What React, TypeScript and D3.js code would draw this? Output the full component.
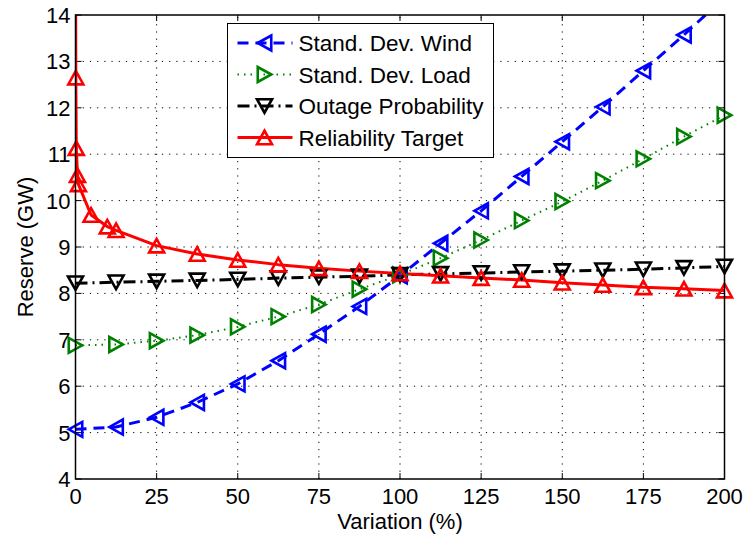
import * as d3 from "d3";
import React from "react";

// x positions shared by wind / load / outage series
const xSteps = [0, 12.5, 25, 37.5, 50, 62.5, 75, 87.5, 100, 112.5, 125, 137.5, 150, 162.5, 175, 187.5, 200];
const windValues = [5.07, 5.12, 5.33, 5.65, 6.05, 6.55, 7.12, 7.72, 8.38, 9.08, 9.78, 10.52, 11.27, 12.02, 12.8, 13.57, 14.38];
const loadValues = [6.88, 6.9, 6.98, 7.1, 7.28, 7.5, 7.76, 8.09, 8.4, 8.76, 9.15, 9.57, 9.98, 10.43, 10.9, 11.38, 11.84];
const outageValues = [8.22, 8.24, 8.26, 8.28, 8.3, 8.33, 8.35, 8.37, 8.4, 8.42, 8.44, 8.46, 8.48, 8.5, 8.52, 8.55, 8.58];

// reliability target has extra points near zero
const reliabilityX = [0, 0.1, 0.25, 0.6, 0.9, 4.8, 9.8, 12.5, 25, 37.5, 50, 62.5, 75, 87.5, 100, 112.5, 125, 137.5, 150, 162.5, 175, 187.5, 200];
const reliabilityValues = [15.5, 12.65, 11.13, 10.55, 10.35, 9.69, 9.44, 9.36, 9.03, 8.85, 8.72, 8.62, 8.54, 8.48, 8.43, 8.38, 8.33, 8.29, 8.23, 8.18, 8.13, 8.1, 8.06];

const xTicks = [0, 25, 50, 75, 100, 125, 150, 175, 200];
const yTicks = [4, 5, 6, 7, 8, 9, 10, 11, 12, 13, 14];

const seriesNames = ["Stand. Dev. Wind", "Stand. Dev. Load", "Outage Probability", "Reliability Target"];

const W = 745;
const H = 535;
const margin = { left: 75.5, right: 20.5, top: 15, bottom: 56 };
const FONT = "'Liberation Sans', Arial, Helvetica, sans-serif";

type Dir = "left" | "right" | "down" | "up";

function trianglePath(dir: Dir, s = 7.5) {
  const h = s * 0.9;
  switch (dir) {
    case "left":
      return `M${-h},0L${h},${-s}L${h},${s}Z`;
    case "right":
      return `M${h},0L${-h},${-s}L${-h},${s}Z`;
    case "down":
      return `M0,${h}L${-s},${-h}L${s},${-h}Z`;
    default:
      return `M0,${-h}L${-s},${h}L${s},${h}Z`;
  }
}

const styles = [
  { color: "#0000ff", dash: "11,7", width: 3, dir: "left" as Dir, markerWidth: 2.6 },
  { color: "#008000", dash: "1.5,5", width: 2, dir: "right" as Dir, markerWidth: 2.6 },
  { color: "#000000", dash: "12,5,2,5", width: 3, dir: "down" as Dir, markerWidth: 2.6 },
  { color: "#ff0000", dash: "none", width: 3, dir: "up" as Dir, markerWidth: 2.6 },
];

export default function App() {
  const iw = W - margin.left - margin.right;
  const ih = H - margin.top - margin.bottom;
  const x = d3.scaleLinear().domain([0, 200]).range([margin.left, margin.left + iw]);
  const y = d3.scaleLinear().domain([4, 14]).range([margin.top + ih, margin.top]);

  const series = [
    { xs: xSteps, ys: windValues },
    { xs: xSteps, ys: loadValues },
    { xs: xSteps, ys: outageValues },
    { xs: reliabilityX, ys: reliabilityValues },
  ];

  const line = d3
    .line<[number, number]>()
    .x((d) => x(d[0]))
    .y((d) => y(d[1]));

  const x0 = margin.left;
  const x1 = margin.left + iw;
  const y0 = margin.top + ih;
  const y1 = margin.top;
  const tick = 6;

  const legend = { x: 227.5, y: 23.5, w: 266, h: 134 };

  return (
    <svg
      width={W}
      height={H}
      style={{ position: "absolute", left: 0, top: 0, background: "#fff" }}
      fontFamily={FONT}
    >
      <defs>
        <clipPath id="plot-clip">
          <rect x={x0} y={y1} width={iw} height={ih} />
        </clipPath>
      </defs>
      <rect width={W} height={H} fill="#fff" />

      {/* grid */}
      <g stroke="#000" strokeWidth={1} strokeDasharray="1.2,6">
        {xTicks.slice(1, -1).map((t) => (
          <line key={`gx${t}`} x1={x(t)} x2={x(t)} y1={y0} y2={y1} />
        ))}
        {yTicks.slice(1, -1).map((t) => (
          <line key={`gy${t}`} x1={x0} x2={x1} y1={y(t)} y2={y(t)} />
        ))}
      </g>

      {/* ticks on all four sides */}
      <g stroke="#000" strokeWidth={1}>
        {xTicks.map((t) => (
          <g key={`tx${t}`}>
            <line x1={x(t)} x2={x(t)} y1={y0} y2={y0 - tick} />
            <line x1={x(t)} x2={x(t)} y1={y1} y2={y1 + tick} />
          </g>
        ))}
        {yTicks.map((t) => (
          <g key={`ty${t}`}>
            <line x1={x0} x2={x0 + tick} y1={y(t)} y2={y(t)} />
            <line x1={x1} x2={x1 - tick} y1={y(t)} y2={y(t)} />
          </g>
        ))}
      </g>

      {/* lines */}
      <g clipPath="url(#plot-clip)">
        {series.map((s, i) => (
          <path
            key={`l${i}`}
            d={line(s.xs.map((v, k) => [v, s.ys[k]] as [number, number])) || ""}
            fill="none"
            stroke={styles[i].color}
            strokeWidth={styles[i].width}
            strokeDasharray={styles[i].dash}
            strokeLinejoin="round"
          />
        ))}
      </g>

      {/* markers */}
      {series.map((s, i) => (
        <g key={`m${i}`} stroke={styles[i].color} strokeWidth={styles[i].markerWidth} fill="none">
          {s.xs.map((v, k) =>
            s.ys[k] <= 14 ? (
              <path
                key={k}
                transform={`translate(${x(v)},${y(s.ys[k])})`}
                d={trianglePath(styles[i].dir)}
                strokeLinejoin="miter"
              />
            ) : null
          )}
        </g>
      ))}

      {/* axes box */}
      <rect x={x0} y={y1} width={iw} height={ih} fill="none" stroke="#000" strokeWidth={1.5} />

      {/* tick labels */}
      <g fontSize={22} fill="#000">
        {xTicks.map((t) => (
          <text key={`lx${t}`} x={x(t)} y={y0 + 25} textAnchor="middle">
            {t}
          </text>
        ))}
        {yTicks.map((t) => (
          <text key={`ly${t}`} x={x0 - 5} y={y(t) + 8} textAnchor="end">
            {t}
          </text>
        ))}
      </g>

      {/* axis titles */}
      <text x={(x0 + x1) / 2} y={H - 6} textAnchor="middle" fontSize={22}>
        Variation (%)
      </text>
      <text
        transform={`translate(33,${(y0 + y1) / 2}) rotate(-90)`}
        textAnchor="middle"
        fontSize={22}
      >
        Reserve (GW)
      </text>

      {/* legend */}
      <g>
        <rect x={legend.x} y={legend.y} width={legend.w} height={legend.h} fill="#fff" stroke="#000" strokeWidth={1} />
        {seriesNames.map((name, i) => {
          const cy = legend.y + 19.5 + i * 31.5;
          return (
            <g key={name}>
              <line
                x1={legend.x + 10}
                x2={legend.x + 65}
                y1={cy}
                y2={cy}
                stroke={styles[i].color}
                strokeWidth={styles[i].width}
                strokeDasharray={styles[i].dash}
              />
              <path
                transform={`translate(${legend.x + 37},${cy})`}
                d={trianglePath(styles[i].dir)}
                fill="none"
                stroke={styles[i].color}
                strokeWidth={styles[i].markerWidth}
              />
              <text x={legend.x + 71} y={cy + 8} fontSize={22.5}>
                {name}
              </text>
            </g>
          );
        })}
      </g>
    </svg>
  );
}
